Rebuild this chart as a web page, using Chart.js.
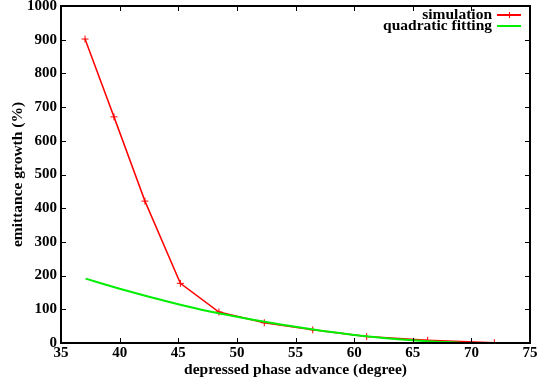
<!DOCTYPE html>
<html><head><meta charset="utf-8">
<script src="https://cdn.jsdelivr.net/npm/chart.js@4"></script>
<style>html,body{margin:0;padding:0;background:#fff;}#wrap{width:541px;height:387px;}</style>
</head><body><div id="wrap"><canvas id="c" width="541" height="387"></canvas></div>
<script>
const simX = [37.05, 39.52, 42.16, 45.18, 48.47, 52.34, 56.47, 61.07, 66.27, 71.96];
const simY = [902, 671, 421, 177, 92, 60, 39, 19, 8, 1];
const fitX = [37.1, 40, 42.5, 45, 47.5, 50, 52.5, 55, 57.5, 60, 62.5, 65, 67.5, 69.1];
const fitY = [191, 161, 137, 115, 95, 78, 62, 48, 35, 24, 15, 8, 3, 1];
const xTicks = [35, 40, 45, 50, 55, 60, 65, 70, 75];
const yTicks = [0, 100, 200, 300, 400, 500, 600, 700, 800, 900, 1000];
const seriesNames = ['simulation', 'quadratic fitting'];
const xTitle = 'depressed phase advance (degree)';
const yTitle = 'emittance growth (%)';

const FONT = 'Liberation Serif';

const boxPlugin = {
  id: 'box',
  afterDraw(chart) {
    const ctx = chart.ctx, a = chart.chartArea;
    const xs = chart.scales.x, ys = chart.scales.y;
    ctx.save();
    ctx.strokeStyle = '#000';
    ctx.lineWidth = 2;
    ctx.strokeRect(a.left, a.top, a.right - a.left, a.bottom - a.top);
    ctx.lineWidth = 1;
    const L = 5;
    ctx.beginPath();
    xTicks.forEach(v => {
      const p = Math.round(xs.getPixelForValue(v)) + 0.5;
      ctx.moveTo(p, a.bottom); ctx.lineTo(p, a.bottom - L);
      ctx.moveTo(p, a.top); ctx.lineTo(p, a.top + L);
    });
    yTicks.forEach(v => {
      const p = Math.round(ys.getPixelForValue(v)) + 0.5;
      ctx.moveTo(a.left, p); ctx.lineTo(a.left + L, p);
      ctx.moveTo(a.right, p); ctx.lineTo(a.right - L, p);
    });
    ctx.stroke();
    // gnuplot-style legend
    ctx.font = 'bold 15.5px "' + FONT + '"';
    ctx.textAlign = 'right';
    ctx.textBaseline = 'middle';
    ctx.fillStyle = '#000';
    const tx = 492, lx0 = 497, lx1 = 521;
    const rows = [15, 26];
    const cols = ['#ff0000', '#00ee00'];
    rows.forEach((y, i) => {
      ctx.fillText(seriesNames[i], tx, y);
      ctx.strokeStyle = cols[i];
      ctx.lineWidth = 2;
      ctx.beginPath(); ctx.moveTo(lx0, y); ctx.lineTo(lx1, y); ctx.stroke();
      if (i === 0) {
        ctx.lineWidth = 1;
        ctx.beginPath(); ctx.moveTo(509.5, y - 3); ctx.lineTo(509.5, y + 3); ctx.stroke();
      }
    });
    ctx.restore();
  }
};

new Chart(document.getElementById('c'), {
  type: 'scatter',
  data: {
    datasets: [
      {
        label: seriesNames[0],
        data: simX.map((x, i) => ({x, y: simY[i]})),
        showLine: true,
        borderColor: '#ff0000',
        backgroundColor: '#ff0000',
        borderWidth: 1.5,
        pointStyle: 'cross',
        pointRadius: 3.5,
        pointBorderWidth: 1,
        order: 2
      },
      {
        label: seriesNames[1],
        data: fitX.map((x, i) => ({x, y: fitY[i]})),
        showLine: true,
        borderColor: '#00ee00',
        borderWidth: 2,
        pointRadius: 0,
        tension: 0.2,
        order: 1
      }
    ]
  },
  options: {
    responsive: false,
    animation: false,
    layout: { padding: { left: 0, top: 6, right: 11, bottom: 0 } },
    plugins: { legend: { display: false }, tooltip: { enabled: false } },
    scales: {
      x: {
        type: 'linear', min: 35, max: 75,
        afterBuildTicks: s => { s.ticks = xTicks.map(v => ({value: v})); },
        afterFit: s => { s.height = 44; s.paddingLeft = 0; s.paddingRight = 0; },
        grid: { display: false, drawTicks: false, tickLength: 0 },
        border: { display: false },
        ticks: { color: '#000', font: { family: FONT, weight: 'bold', size: 15 }, padding: 1, maxRotation: 0, callback: v => String(v) },
        title: { display: true, text: xTitle, color: '#000', font: { family: FONT, weight: 'bold', size: 15.5 }, padding: { top: 0, bottom: 8 } }
      },
      y: {
        type: 'linear', min: 0, max: 1000,
        afterBuildTicks: s => { s.ticks = yTicks.map(v => ({value: v})); },
        afterFit: s => { s.width = 61; s.paddingTop = 0; s.paddingBottom = 0; },
        grid: { display: false, drawTicks: false, tickLength: 0 },
        border: { display: false },
        ticks: { color: '#000', font: { family: FONT, weight: 'bold', size: 15 }, padding: 4, callback: v => String(v) },
        title: { display: true, text: yTitle, color: '#000', font: { family: FONT, weight: 'bold', size: 15.5 }, padding: { top: 9, bottom: 0 } }
      }
    }
  },
  plugins: [boxPlugin]
});
</script>
</body></html>
